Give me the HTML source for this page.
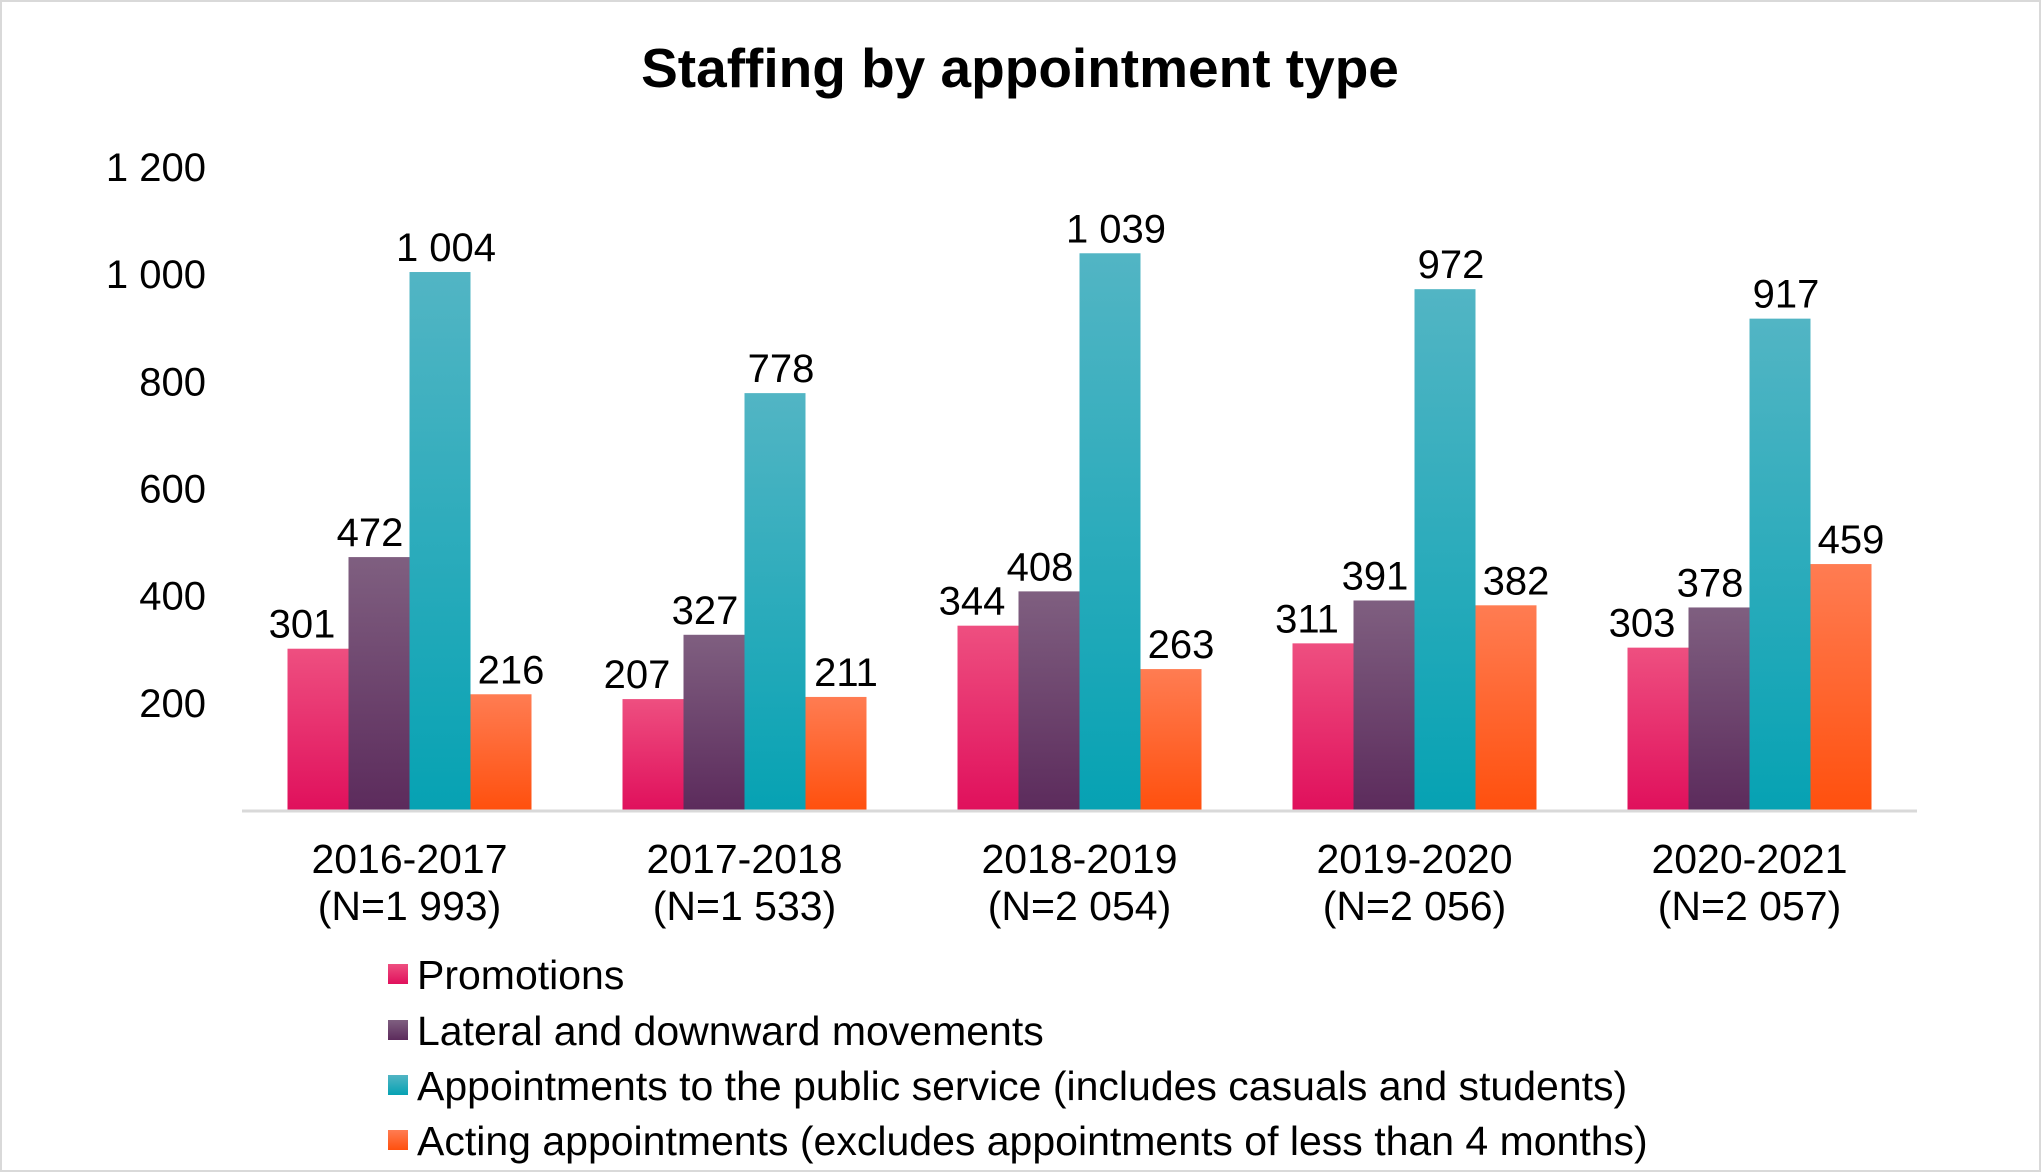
<!DOCTYPE html>
<html><head><meta charset="utf-8"><style>
body{margin:0;background:#fff}
svg{display:block;font-family:"Liberation Sans",Arial,sans-serif}
</style></head><body>
<svg id="chart" width="2041" height="1172" viewBox="0 0 2041 1172">
<defs>
<linearGradient id="g0" x1="0" y1="0" x2="0" y2="1"><stop offset="0" stop-color="#ee4f80"/><stop offset="1" stop-color="#e0105c"/></linearGradient>
<linearGradient id="g1" x1="0" y1="0" x2="0" y2="1"><stop offset="0" stop-color="#7f5f80"/><stop offset="1" stop-color="#5c2b5c"/></linearGradient>
<linearGradient id="g2" x1="0" y1="0" x2="0" y2="1"><stop offset="0" stop-color="#52b5c4"/><stop offset="1" stop-color="#06a2b3"/></linearGradient>
<linearGradient id="g3" x1="0" y1="0" x2="0" y2="1"><stop offset="0" stop-color="#ff7c52"/><stop offset="1" stop-color="#ff500e"/></linearGradient>
</defs>
<rect x="1" y="1" width="2039" height="1170" fill="#fff" stroke="#d9d9d9" stroke-width="2"/>
<text x="1020" y="87" text-anchor="middle" font-size="55" font-weight="bold">Staffing by appointment type</text>
<g id="yaxis"></g><g id="bars"></g><g id="xaxis"></g><g id="legend"></g>
</svg>
<script>
const categories=["2016-2017","2017-2018","2018-2019","2019-2020","2020-2021"];
const categoryN=["(N=1 993)","(N=1 533)","(N=2 054)","(N=2 056)","(N=2 057)"];
const promotions=[301,207,344,311,303];
const lateral=[472,327,408,391,378];
const appointments=[1004,778,1039,972,917];
const acting=[216,211,263,382,459];
const seriesNames=["Promotions","Lateral and downward movements","Appointments to the public service (includes casuals and students)","Acting appointments (excludes appointments of less than 4 months)"];
const yTicks=[200,400,600,800,1000,1200];
const yTickLabels=["200","400","600","800","1 000","1 200"];

const NS="http://www.w3.org/2000/svg";
const x0=242,x1=1917,y0=810,yMaxPx=167,yMax=1200;
const y=v=>y0-(v/yMax)*(y0-yMaxPx);
const catW=(x1-x0)/categories.length;
const barW=61;
const labelShift=[-16,-9,6,10];
const fmt=v=>String(v).replace(/\B(?=(\d{3})+(?!\d))/g," ");
function mk(tag,attrs,parent){const e=document.createElementNS(NS,tag);for(const k in attrs)e.setAttribute(k,attrs[k]);parent.appendChild(e);return e;}
const yg=document.getElementById('yaxis');
yTicks.forEach((t,i)=>{const e=mk('text',{x:206,y:y(t)+14,'text-anchor':'end','font-size':40},yg);e.textContent=yTickLabels[i];

});
const bg=document.getElementById('bars');
const series=[promotions,lateral,appointments,acting];
categories.forEach((c,ci)=>{const cx=x0+catW*(ci+0.5);
series.forEach((s,si)=>{const bx=cx+(si-2)*barW;const v=s[ci];
const r=mk('rect',{x:bx,y:y(v),width:barW,height:y0-y(v),fill:'url(#g'+si+')'},bg);


const t=mk('text',{x:bx+barW/2+labelShift[si],y:y(v)-11,'text-anchor':'middle','font-size':40},bg);t.textContent=fmt(v);

});});
const xg=document.getElementById('xaxis');
const ax=mk('line',{x1:x0,x2:x1,y1:y0+1,y2:y0+1,stroke:'#d9d9d9','stroke-width':3},xg);


categories.forEach((c,ci)=>{const cx=x0+catW*(ci+0.5);
const t=mk('text',{x:cx,y:873,'text-anchor':'middle','font-size':41},xg);t.textContent=c;


const t2=mk('text',{x:cx,y:920,'text-anchor':'middle','font-size':41},xg);t2.textContent=categoryN[ci];

});
const lg=document.getElementById('legend');
const ly=[974,1030,1085,1140];
seriesNames.forEach((n,i)=>{const g=mk('g',{},lg);


mk('rect',{x:388,y:ly[i]-10,width:20,height:20,fill:'url(#g'+i+')'},g);
const t=mk('text',{x:417,y:ly[i]+15,'font-size':41},g);t.textContent=n;});
</script>
</body></html>
